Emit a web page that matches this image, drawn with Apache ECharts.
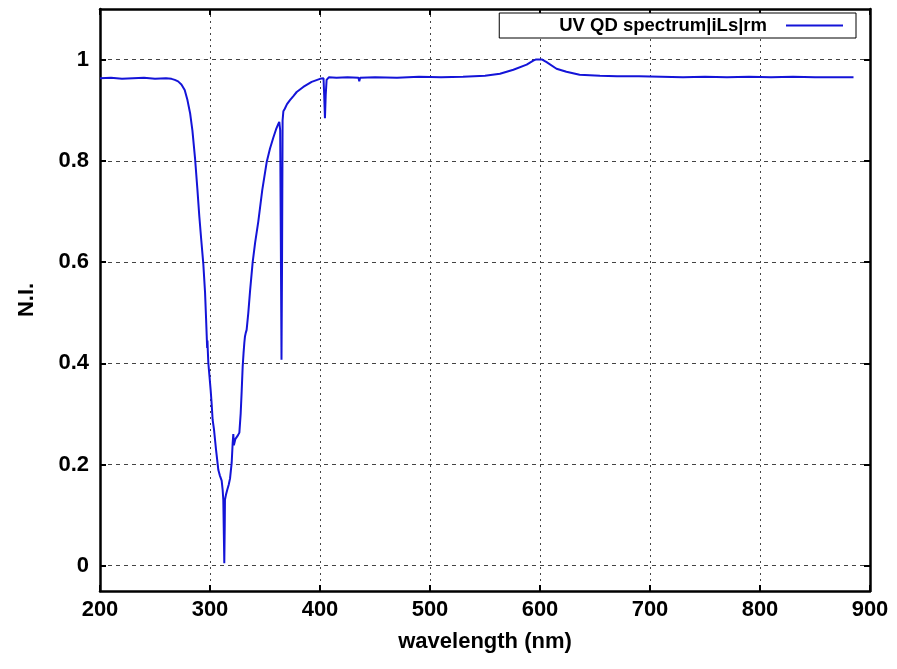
<!DOCTYPE html>
<html>
<head>
<meta charset="utf-8">
<script src="https://cdn.jsdelivr.net/npm/echarts@6/dist/echarts.min.js"></script>
<style>
html,body{margin:0;padding:0;background:#fff;}
#c{width:897px;height:669px;}
</style>
</head>
<body>
<div id="c"></div>
<script>
const seriesName = 'UV QD spectrum|iLs|rm';
const wavelength = [
  200,210,220,230,240,250,260,265,268,271,274,277,279.5,282,284,286.4,288.5,290.3,292,293.9,
  295.5,296.4,297,297.4,297.7,298,298.5,299.5,300.6,301.5,302.4,303,303.6,305.5,307.6,309,310.6,
  311.5,312.1,312.6,313,313.4,313.6,314.5,315.7,317,318.2,319.7,320.6,321.2,321.7,322.2,323,324.2,
  325.5,326.7,327.9,328.8,329.7,330.5,331.2,331.8,332.5,333.3,334.8,336.5,338.8,341,343.9,347.5,
  351.5,354.5,357.6,360,362.1,363,363.8,364.5,365,365.5,366,366.7,368,370,372.7,375.8,378.8,
  384.8,392.4,400,403.2,403.8,404.5,405.2,406,408,415,425,435,435.7,436.5,450,470,490,510,530,
  550,563.6,575.8,587.9,593.9,596,602,606,615,624,636,654.5,670,690,710,730,750,770,790,810,830,
  850,870,885
];
const niValues = [
  0.963,0.964,0.962,0.963,0.964,0.962,0.963,0.962,0.960,0.957,0.951,0.940,0.920,0.893,0.860,0.805,0.745,0.690,0.645,0.597,
  0.540,0.490,0.455,0.430,0.445,0.425,0.400,0.375,0.347,0.320,0.288,0.285,0.270,0.229,0.189,0.178,0.168,
  0.150,0.130,0.060,0.005,0.080,0.130,0.140,0.150,0.160,0.172,0.203,0.242,0.260,0.238,0.236,0.250,0.252,
  0.258,0.263,0.301,0.345,0.393,0.420,0.440,0.453,0.460,0.466,0.499,0.545,0.600,0.638,0.680,0.742,
  0.797,0.824,0.846,0.862,0.873,0.877,0.860,0.600,0.407,0.600,0.880,0.898,0.903,0.912,0.920,0.928,0.936,
  0.946,0.956,0.962,0.963,0.930,0.884,0.930,0.960,0.965,0.964,0.965,0.964,0.957,0.964,0.965,0.964,0.966,0.965,0.966,
  0.968,0.972,0.980,0.990,0.998,1.000,1.000,0.995,0.982,0.976,0.970,0.968,0.967,0.967,0.966,0.965,0.966,0.965,0.966,0.965,0.966,
  0.965,0.965,0.965
];
const yTickValues = [0, 0.2, 0.4, 0.6, 0.8, 1];

const data = wavelength.map((w, i) => [w, niValues[i]]);
const font = '"Liberation Sans", Arial, Helvetica, sans-serif';

const chart = echarts.init(document.getElementById('c'), null, {renderer: 'canvas'});
chart.setOption({
  animation: false,
  backgroundColor: '#ffffff',
  grid: {left: 100, right: 27, top: 9, bottom: 78, containLabel: false},
  legend: {
    show: true,
    data: [seriesName],
    right: 41,
    top: 13,
    align: 'right',
    backgroundColor: '#fff',
    borderColor: '#000',
    borderWidth: 1,
    borderRadius: 0,
    padding: [3, 13, 3, 60],
    itemWidth: 57,
    itemHeight: 2,
    icon: 'rect',
    textStyle: {fontFamily: font, fontWeight: 'bold', fontSize: 18.5, color: '#000', padding: [0, 14, 0, 0], lineHeight: 17}
  },
  xAxis: [
    {
      type: 'value', min: 200, max: 900, interval: 100, position: 'bottom',
      name: 'wavelength (nm)', nameLocation: 'middle', nameGap: 40,
      nameTextStyle: {fontFamily: font, fontWeight: 'bold', fontSize: 22, color: '#000'},
      axisLine: {show: true, onZero: false, lineStyle: {color: '#000', width: 2.5}},
      axisTick: {show: true, inside: true, length: 6, lineStyle: {color: '#000', width: 2}},
      axisLabel: {fontFamily: font, fontWeight: 'bold', fontSize: 22, color: '#000', margin: 8},
      splitLine: {show: true, lineStyle: {color: '#444', width: 1, type: [2, 4]}}
    },
    {
      type: 'value', min: 200, max: 900, interval: 100, position: 'top',
      axisLine: {show: true, onZero: false, lineStyle: {color: '#000', width: 2.5}},
      axisTick: {show: true, inside: true, length: 6, lineStyle: {color: '#000', width: 2}},
      axisLabel: {show: false},
      splitLine: {show: false}
    }
  ],
  yAxis: [
    {
      type: 'value', min: -0.05, max: 1.1, position: 'left',
      name: 'N.I.', nameLocation: 'middle', nameGap: 62, nameRotate: 90,
      nameTextStyle: {fontFamily: font, fontWeight: 'bold', fontSize: 22, color: '#000'},
      axisLine: {show: true, onZero: false, lineStyle: {color: '#000', width: 2.5}},
      axisTick: {show: true, inside: true, length: 6, customValues: yTickValues, lineStyle: {color: '#000', width: 2}},
      axisLabel: {fontFamily: font, fontWeight: 'bold', fontSize: 22, color: '#000', margin: 11, customValues: yTickValues},
      splitLine: {show: true, lineStyle: {color: '#444', width: 1, type: [4, 4]}}
    },
    {
      type: 'value', min: -0.05, max: 1.1, position: 'right',
      axisLine: {show: true, onZero: false, lineStyle: {color: '#000', width: 2.5}},
      axisTick: {show: true, inside: true, length: 6, customValues: yTickValues, lineStyle: {color: '#000', width: 2}},
      axisLabel: {show: false, customValues: yTickValues},
      splitLine: {show: false}
    }
  ],
  series: [{
    name: seriesName,
    type: 'line',
    xAxisIndex: 0,
    yAxisIndex: 0,
    data: data,
    showSymbol: false,
    symbol: 'none',
    lineStyle: {color: '#1414d8', width: 2},
    itemStyle: {color: '#1414d8'},
    z: 5
  }]
});
</script>
</body>
</html>
